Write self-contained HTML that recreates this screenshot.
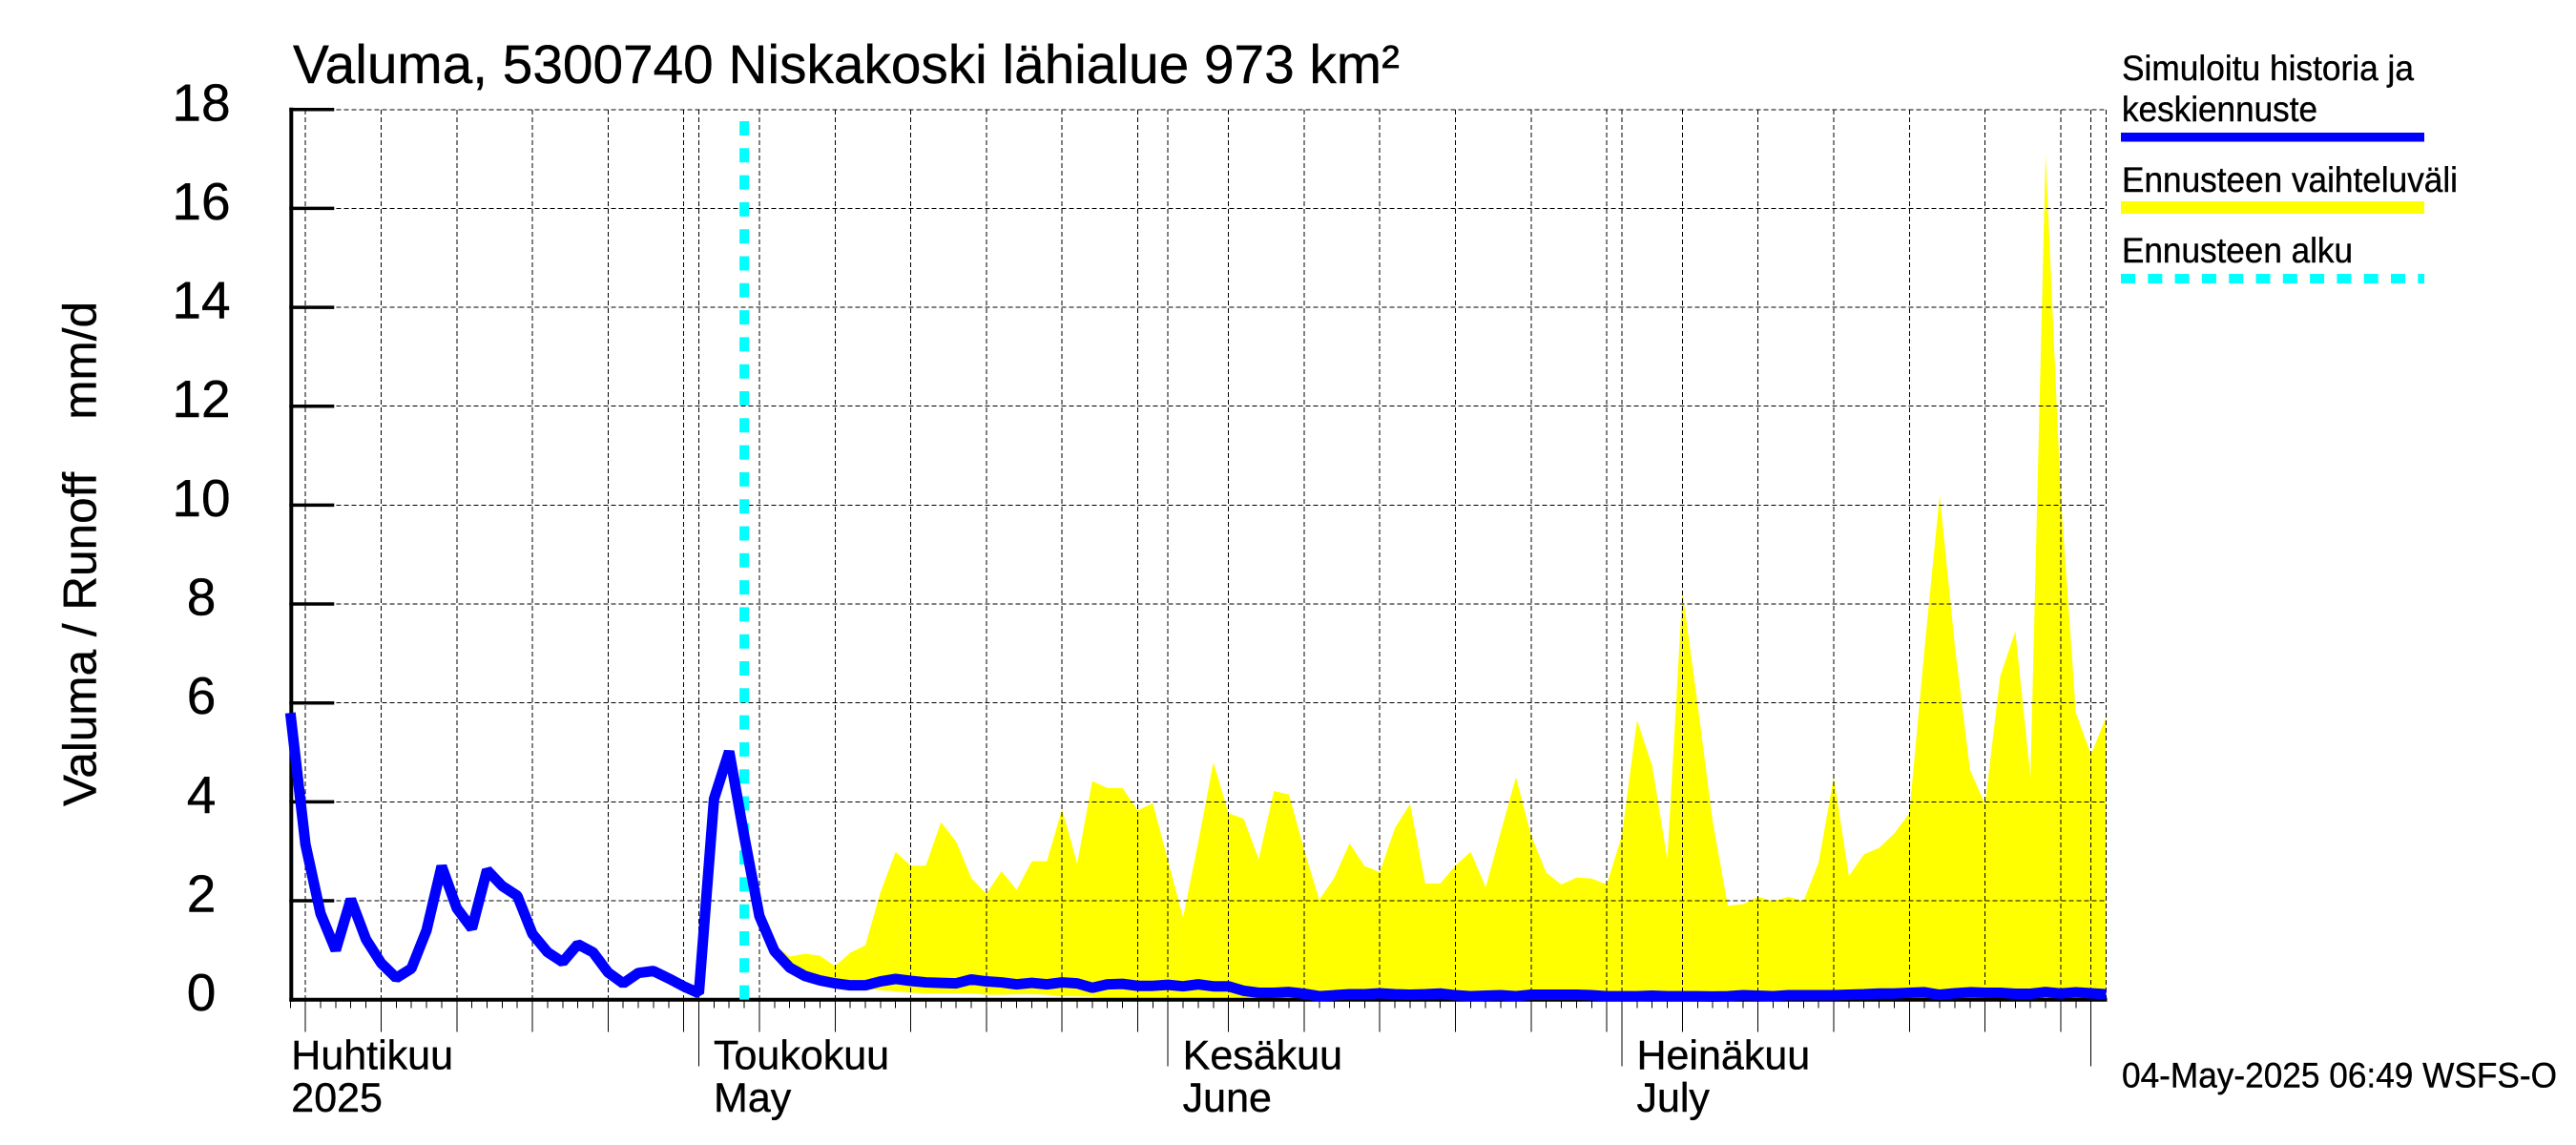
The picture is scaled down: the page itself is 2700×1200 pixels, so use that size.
<!DOCTYPE html>
<html lang="fi">
<head>
<meta charset="utf-8">
<title>Valuma, 5300740 Niskakoski lähialue 973 km²</title>
<style>
html,body{margin:0;padding:0;background:#fff;}
svg{display:block;}
text{font-family:"Liberation Sans",sans-serif;fill:#000;stroke:#000;stroke-width:0.4;white-space:pre;text-rendering:geometricPrecision;}
</style>
</head>
<body>
<svg id="chart" xmlns="http://www.w3.org/2000/svg" width="2700" height="1200" viewBox="0 0 2700 1200">
  <rect x="0" y="0" width="2700" height="1200" fill="#fff"/>
  <g id="band-layer"></g>
  <g id="grid-layer"></g>
  <g id="axis-layer"></g>
  <g id="series-layer"></g>
  <text x="307" y="87" font-size="57" textLength="1160" lengthAdjust="spacingAndGlyphs">Valuma, 5300740 Niskakoski lähialue 973 km²</text>
  <text transform="translate(100.5 845) rotate(-90)" font-size="49" textLength="529" lengthAdjust="spacingAndGlyphs">Valuma / Runoff    mm/d</text>
  <g>
    <text x="2224" y="84" font-size="37" textLength="306" lengthAdjust="spacingAndGlyphs">Simuloitu historia ja</text>
    <text x="2224" y="127" font-size="37" textLength="205" lengthAdjust="spacingAndGlyphs">keskiennuste</text>
    <line x1="2223" y1="143.7" x2="2541" y2="143.7" stroke="#0000ff" stroke-width="9.5"/>
    <text x="2224" y="201" font-size="37" textLength="352" lengthAdjust="spacingAndGlyphs">Ennusteen vaihteluväli</text>
    <line x1="2223" y1="217.5" x2="2541" y2="217.5" stroke="#ffff00" stroke-width="13"/>
    <text x="2224" y="275" font-size="37" textLength="242" lengthAdjust="spacingAndGlyphs">Ennusteen alku</text>
    <line x1="2223" y1="292" x2="2541" y2="292" stroke="#00ffff" stroke-width="10" stroke-dasharray="15 13.3"/>
  </g>
  <text x="2224" y="1139.6" font-size="37" textLength="456" lengthAdjust="spacingAndGlyphs">04-May-2025 06:49 WSFS-O</text>
</svg>
<script>
// Chart data (day index 0 = 4 April 2025, one value per day)
const medianValues = [5.8,3.14,1.74,1.0,2.03,1.22,0.74,0.44,0.63,1.4,2.7,1.85,1.44,2.62,2.3,2.1,1.33,0.96,0.76,1.12,0.96,0.55,0.33,0.54,0.58,0.43,0.27,0.13,4.06,5.02,3.3,1.69,0.98,0.65,0.48,0.39,0.33,0.29,0.29,0.37,0.42,0.38,0.35,0.34,0.33,0.41,0.37,0.35,0.31,0.34,0.31,0.35,0.33,0.24,0.31,0.32,0.28,0.28,0.3,0.27,0.31,0.27,0.27,0.18,0.14,0.14,0.155,0.12,0.07,0.09,0.11,0.11,0.13,0.11,0.1,0.11,0.125,0.09,0.07,0.08,0.09,0.07,0.1,0.1,0.1,0.1,0.09,0.07,0.07,0.07,0.08,0.07,0.07,0.07,0.065,0.07,0.09,0.08,0.07,0.09,0.09,0.09,0.09,0.1,0.11,0.125,0.125,0.14,0.15,0.1,0.13,0.15,0.14,0.14,0.12,0.12,0.155,0.125,0.15,0.13,0.11];
const upperStartDay = 31;
const upperValues = [1.69,1.11,0.87,0.93,0.89,0.68,0.95,1.1,2.17,2.99,2.71,2.71,3.59,3.2,2.46,2.14,2.6,2.22,2.8,2.8,3.85,2.75,4.42,4.28,4.28,3.83,3.97,2.81,1.66,3.18,4.8,3.77,3.66,2.84,4.22,4.15,3.03,2.02,2.47,3.16,2.7,2.58,3.47,3.96,2.35,2.35,2.71,2.99,2.27,3.4,4.5,3.32,2.57,2.33,2.47,2.45,2.33,3.32,5.65,4.73,2.84,8.25,5.98,3.6,1.9,1.93,2.08,1.99,2.08,1.99,2.77,4.5,2.5,2.94,3.07,3.36,3.77,7.1,10.2,7.16,4.65,3.95,6.54,7.45,4.5,17.1,10.2,5.8,4.95,5.72];
const lowerValues = [1.69,0.98,0.65,0.48,0.39,0.33,0.27,0.23,0.19,0.17,0.14,0.13,0.13,0.13,0.13,0.1,0.1,0.11,0.11,0.1,0.07,0.07,0.06,0.03,0.03,0.02,0.02,0.02,0.02,0.02,0.02,0.02,0.02,0.02,0.02,0.02,0.02,0.02,0.02,0.02,0.02,0.02,0.02,0.02,0.02,0.02,0.02,0.02,0.02,0.02,0.02,0.02,0.02,0.02,0.02,0.02,0.02,0.02,0.02,0.02,0.02,0.02,0.02,0.02,0.02,0.02,0.02,0.02,0.02,0.02,0.02,0.02,0.02,0.02,0.02,0.02,0.02,0.02,0.02,0.02,0.02,0.02,0.02,0.02,0.02,0.02,0.02,0.02,0.02,0.02];
const forecastStartDay = 30;
const lastDay = 120;
const yTickValues = [0,2,4,6,8,10,12,14,16,18];
const fiveDayTicks = [1,6,11,16,21,26,31,36,41,46,51,56,62,67,72,77,82,87,92,97,102,107,112,117];
const monthTicks = [27,58,88,119];
const monthLabelsFi = ["Huhtikuu","Toukokuu","Kesäkuu","Heinäkuu"];
const monthLabelsEn = ["2025","May","June","July"];

// Axis functions
const plotLeft = 304.3, plotBottom = 1047.7, dayWidth = 15.86, unitHeight = 51.83;
function xScale(day){ return plotLeft + dayWidth * day; }
function yScale(value){ return plotBottom - unitHeight * value; }

const NS = 'http://www.w3.org/2000/svg';
function mk(tag, parent, attrs){
  const el = document.createElementNS(NS, tag);
  for (const k in attrs) el.setAttribute(k, attrs[k]);
  parent.appendChild(el);
  return el;
}
function pathFrom(days, values){
  return days.map((d,i)=>(i?'L':'M')+xScale(d).toFixed(2)+' '+yScale(values[i]).toFixed(2)).join(' ');
}

const bandLayer = document.getElementById('band-layer');
const gridLayer = document.getElementById('grid-layer');
const axisLayer = document.getElementById('axis-layer');
const seriesLayer = document.getElementById('series-layer');
const svgRoot = document.getElementById('chart');

// Forecast range band
const bandDays = upperValues.map((_,i)=>upperStartDay+i);
const bandPath = pathFrom(bandDays, upperValues) + ' ' +
  bandDays.slice().reverse().map((d)=>{
    const i = d - upperStartDay;
    return 'L'+xScale(d).toFixed(2)+' '+yScale(lowerValues[i]).toFixed(2);
  }).join(' ') + ' Z';
const band = mk('path', bandLayer, {d: bandPath, fill: '#ffff00'});



// Grid lines
const gridStyle = {stroke: '#000', 'stroke-width': 1, 'stroke-dasharray': '5 3', 'shape-rendering': 'crispEdges'};
yTickValues.forEach((v)=>{
  if (v === 0) return;
  const g = mk('line', gridLayer, Object.assign({x1: plotLeft, x2: xScale(lastDay), y1: yScale(v), y2: yScale(v)}, gridStyle));
  
  
});
fiveDayTicks.concat(monthTicks, [lastDay]).forEach((d)=>{
  const g = mk('line', gridLayer, Object.assign({x1: xScale(d), x2: xScale(d), y1: yScale(18), y2: plotBottom}, gridStyle));
  
  
});

// X ticks
for (let d = 0; d < lastDay; d++){
  const t = mk('line', axisLayer, {x1: xScale(d), x2: xScale(d), y1: plotBottom, y2: plotBottom + 9, stroke: '#000', 'stroke-width': 1, 'shape-rendering': 'crispEdges'});
  
  
}
fiveDayTicks.forEach((d)=>{
  const t = mk('line', axisLayer, {x1: xScale(d), x2: xScale(d), y1: plotBottom, y2: plotBottom + 34, stroke: '#000', 'stroke-width': 1, 'shape-rendering': 'crispEdges'});
  
  
});
monthTicks.forEach((d)=>{
  const t = mk('line', axisLayer, {x1: xScale(d), x2: xScale(d), y1: plotBottom, y2: plotBottom + 70, stroke: '#000', 'stroke-width': 1, 'shape-rendering': 'crispEdges'});
  
  
});

// Axis lines
const yAxisLine = mk('line', axisLayer, {x1: plotLeft + 1, x2: plotLeft + 1, y1: yScale(18) - 2, y2: plotBottom + 2, stroke: '#000', 'stroke-width': 4});


const xAxisLine = mk('line', axisLayer, {x1: plotLeft - 1, x2: xScale(lastDay) + 1, y1: plotBottom, y2: plotBottom, stroke: '#000', 'stroke-width': 4});



// Y ticks and labels
yTickValues.forEach((v)=>{
  if (v !== 0){
    const t = mk('line', axisLayer, {x1: plotLeft - 1, x2: plotLeft + 46, y1: yScale(v), y2: yScale(v), stroke: '#000', 'stroke-width': 3.5});
    
    
  }
  const label = String(v);
  const txt = mk('text', svgRoot, {x: 211, y: yScale(v) + 11.5, 'font-size': 55, 'text-anchor': 'middle'});
  txt.textContent = label;
  
  
});

// Month labels: first label hangs off the axis start, others off their month tick
const monthLabelDays = [0].concat(monthTicks.slice(0,3));
monthLabelsFi.forEach((label, i)=>{
  const x = xScale(monthLabelDays[i]) + (i === 0 ? 1 : 15.5);
  const a = mk('text', svgRoot, {x: x, y: 1120.7, 'font-size': 43});
  a.textContent = label;
  
  
  const b = mk('text', svgRoot, {x: x, y: 1165, 'font-size': 43});
  b.textContent = monthLabelsEn[i];
  
  
});

// Forecast start marker
const startLine = mk('line', seriesLayer, {x1: xScale(forecastStartDay), x2: xScale(forecastStartDay), y1: 127, y2: plotBottom, stroke: '#00ffff', 'stroke-width': 10, 'stroke-dasharray': '15 13.3'});



// Median / simulated line
const medianDays = medianValues.map((_,i)=>i);
const medianLine = mk('path', seriesLayer, {d: pathFrom(medianDays, medianValues), fill: 'none', stroke: '#0000ff', 'stroke-width': 11, 'stroke-linejoin': 'bevel', 'stroke-linecap': 'butt'});


</script>
</body>
</html>
